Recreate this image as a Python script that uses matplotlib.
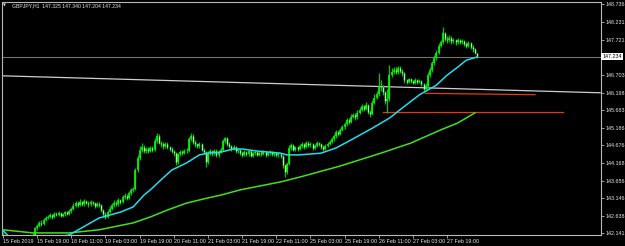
import numpy as np
import matplotlib
matplotlib.use("Agg")
import matplotlib.pyplot as plt
import matplotlib.transforms as mtransforms

# ---------------- data ----------------
symbol_title = "GBPJPY,H1  147.325 147.340 147.204 147.234"
first_open = 142.10
closes = [
    142.05, 141.98, 141.92, 141.88, 141.85, 141.90, 141.87, 141.93, 141.96, 141.92,
    141.98, 142.02, 141.99, 142.04, 142.10, 142.28, 142.35, 142.45, 142.40, 142.52,
    142.58, 142.62, 142.66, 142.60, 142.70, 142.68, 142.72, 142.65, 142.69, 142.74,
    142.70, 142.78, 142.83, 142.93, 143.00, 142.96, 143.03, 142.98, 143.06, 143.02,
    142.97, 143.04, 143.00, 142.94, 142.98, 142.95, 142.80, 142.70, 142.62, 142.75,
    142.85, 142.95, 143.02, 142.98, 143.10, 143.05, 143.18, 143.22, 143.15, 143.30,
    143.38, 143.42, 143.95, 144.30, 144.55, 144.62, 144.50, 144.58, 144.52, 144.60,
    144.55, 144.80, 144.95, 144.75, 144.70, 144.65, 144.72, 144.62, 144.58, 144.50,
    144.45, 144.20, 144.42, 144.48, 144.45, 144.52, 144.50, 144.85, 144.95, 144.78,
    144.70, 144.65, 144.72, 144.55, 144.48, 144.20, 144.45, 144.50, 144.45, 144.52,
    144.40, 144.48, 144.55, 144.80, 144.88, 144.70, 144.65, 144.58, 144.62, 144.50,
    144.55, 144.45, 144.40, 144.48, 144.42, 144.50, 144.38, 144.44, 144.47, 144.41,
    144.46, 144.43, 144.49, 144.40, 144.45, 144.48, 144.42, 144.44, 144.39, 144.43,
    144.36, 144.10, 143.90, 144.15, 144.60, 144.68, 144.55, 144.62, 144.58, 144.65,
    144.70, 144.62, 144.75, 144.68, 144.72, 144.60, 144.66, 144.74, 144.70, 144.64,
    144.58, 144.66, 144.72, 144.78, 144.85, 144.95, 145.05, 145.00, 145.12, 145.20,
    145.28, 145.40, 145.35, 145.50, 145.55, 145.48, 145.62, 145.70, 145.80, 145.72,
    145.85, 145.65, 145.58, 145.90, 146.05, 146.15, 146.40, 146.35, 146.20, 145.95,
    146.00, 146.70, 146.80, 146.85, 146.78, 146.90, 146.82, 146.75, 146.55, 146.50,
    146.58, 146.52, 146.48, 146.56, 146.50, 146.53, 146.45, 146.30, 146.40, 146.70,
    146.85, 147.05, 147.20, 147.35, 147.55, 147.65, 147.90, 147.75, 147.70, 147.78,
    147.68, 147.70, 147.65, 147.72, 147.66, 147.68, 147.60, 147.55, 147.62, 147.52,
    147.45, 147.325, 147.234]
highs = [
    142.18, 142.08, 142.01, 141.96, 141.93, 141.95, 141.94, 141.97, 142.01, 141.99,
    142.03, 142.07, 142.06, 142.09, 142.16, 142.33, 142.40, 142.50, 142.52, 142.57,
    142.63, 142.68, 142.72, 142.70, 142.75, 142.74, 142.77, 142.76, 142.73, 142.79,
    142.78, 142.84, 142.89, 143.00, 143.08, 143.06, 143.12, 143.08, 143.14, 143.10,
    143.06, 143.10, 143.08, 143.04, 143.03, 143.03, 142.99, 142.84, 142.75, 142.80,
    142.92, 143.02, 143.09, 143.06, 143.16, 143.14, 143.24, 143.29, 143.26, 143.36,
    143.44, 143.48, 144.02, 144.40, 144.66, 144.74, 144.68, 144.64, 144.62, 144.67,
    144.65, 144.88, 145.03, 144.99, 144.80, 144.76, 144.78, 144.76, 144.67, 144.62,
    144.55, 144.48, 144.46, 144.54, 144.53, 144.58, 144.60, 144.92, 145.03, 145.00,
    144.82, 144.75, 144.78, 144.75, 144.59, 144.51, 144.50, 144.57, 144.55, 144.58,
    144.56, 144.53, 144.62, 144.86, 144.93, 144.91, 144.76, 144.69, 144.68, 144.65,
    144.60, 144.58, 144.50, 144.53, 144.52, 144.54, 144.53, 144.49, 144.52, 144.51,
    144.51, 144.50, 144.54, 144.52, 144.50, 144.53, 144.51, 144.49, 144.48, 144.47,
    144.46, 144.39, 144.14, 144.20, 144.68, 144.74, 144.72, 144.67, 144.66, 144.71,
    144.76, 144.74, 144.81, 144.79, 144.77, 144.75, 144.71, 144.80, 144.78, 144.74,
    144.68, 144.71, 144.77, 144.84, 144.91, 145.01, 145.11, 145.10, 145.18, 145.27,
    145.35, 145.47, 145.46, 145.57, 145.62, 145.60, 145.69, 145.77, 145.88, 145.84,
    145.92, 145.88, 145.70, 145.98, 146.15, 146.25, 146.76, 146.55, 146.42, 146.24,
    146.30, 146.99, 146.90, 146.94, 146.92, 146.97, 146.95, 146.87, 146.78, 146.60,
    146.63, 146.62, 146.57, 146.61, 146.60, 146.58, 146.57, 146.48, 146.46, 146.78,
    146.93, 147.12, 147.28, 147.42, 147.62, 147.72, 148.09, 147.95, 147.82, 147.86,
    147.82, 147.76, 147.75, 147.77, 147.75, 147.73, 147.71, 147.65, 147.68, 147.66,
    147.57, 147.48, 147.340]
lows = [
    141.98, 141.92, 141.86, 141.82, 141.80, 141.82, 141.83, 141.84, 141.90, 141.88,
    141.90, 141.95, 141.95, 141.96, 142.01, 142.08, 142.24, 142.31, 142.35, 142.37,
    142.48, 142.54, 142.57, 142.55, 142.57, 142.63, 142.64, 142.60, 142.61, 142.65,
    142.66, 142.67, 142.72, 142.80, 142.89, 142.91, 142.92, 142.93, 142.94, 142.97,
    142.91, 142.93, 142.95, 142.88, 142.89, 142.90, 142.74, 142.62, 142.54, 142.58,
    142.71, 142.80, 142.90, 142.92, 142.94, 142.99, 143.01, 143.13, 143.10, 143.12,
    143.25, 143.33, 143.40, 143.90, 144.25, 144.48, 144.44, 144.45, 144.45, 144.47,
    144.48, 144.52, 144.75, 144.70, 144.63, 144.58, 144.60, 144.57, 144.52, 144.44,
    144.38, 144.10, 144.15, 144.37, 144.40, 144.42, 144.45, 144.47, 144.80, 144.72,
    144.64, 144.59, 144.60, 144.50, 144.42, 144.05, 144.15, 144.40, 144.38, 144.40,
    144.33, 144.35, 144.44, 144.52, 144.74, 144.65, 144.59, 144.52, 144.53, 144.44,
    144.45, 144.40, 144.34, 144.36, 144.37, 144.38, 144.33, 144.34, 144.40, 144.36,
    144.37, 144.38, 144.39, 144.35, 144.36, 144.41, 144.37, 144.37, 144.34, 144.35,
    144.30, 144.02, 143.76, 143.85, 144.12, 144.55, 144.50, 144.50, 144.52, 144.54,
    144.61, 144.57, 144.59, 144.63, 144.64, 144.55, 144.56, 144.62, 144.65, 144.58,
    144.50, 144.54, 144.62, 144.68, 144.74, 144.81, 144.90, 144.94, 144.96, 145.08,
    145.15, 145.24, 145.29, 145.31, 145.45, 145.42, 145.44, 145.58, 145.66, 145.66,
    145.68, 145.58, 145.50, 145.55, 145.86, 146.00, 146.10, 146.25, 146.12, 145.88,
    145.61, 145.95, 146.65, 146.74, 146.72, 146.73, 146.76, 146.66, 146.48, 146.44,
    146.46, 146.47, 146.43, 146.44, 146.45, 146.46, 146.38, 146.20, 146.25, 146.37,
    146.65, 146.80, 147.00, 147.15, 147.30, 147.50, 147.60, 147.68, 147.62, 147.65,
    147.60, 147.62, 147.58, 147.60, 147.60, 147.61, 147.54, 147.48, 147.50, 147.45,
    147.38, 147.30, 147.204]

fast_ma_bar = [0, 3, 12, 22, 31, 45, 55, 61, 66, 69, 74, 79, 86, 92, 96, 102, 108,
               112, 119, 130, 133, 139, 149, 156, 163, 168, 173, 181, 187, 195, 203,
               208, 213, 217, 222]
fast_ma_val = [142.22, 142.03, 141.96, 142.00, 142.09, 142.58, 142.75, 142.90, 143.24,
               143.39, 143.68, 143.96, 144.17, 144.40, 144.45, 144.48, 144.57, 144.57,
               144.51, 144.45, 144.40, 144.40, 144.45, 144.60, 144.83, 145.00, 145.17,
               145.46, 145.75, 146.13, 146.41, 146.70, 146.93, 147.13, 147.22]
slow_ma_bar = [0, 14, 31, 45, 61, 69, 77, 86, 94, 102, 111, 120, 130, 139, 158, 177,
               191, 205, 213, 221]
slow_ma_val = [142.24, 142.15, 142.15, 142.24, 142.44, 142.61, 142.81, 143.01, 143.13,
               143.24, 143.39, 143.50, 143.62, 143.76, 144.08, 144.45, 144.74, 145.12,
               145.32, 145.61]

bid_price = 147.234
trend_bar = [-0.5, 280]
trend_val = [146.68, 146.19]
red1_bar = [197.7, 249.2]
red1_val = [146.175, 146.135]
red2_bar = [178, 262.3]
red2_val = [145.628, 145.628]

y_tick_values = [148.736, 148.231, 147.721, 146.703, 146.198, 145.683, 145.186,
                 144.676, 144.168, 143.656, 143.146, 142.638, 142.141]
x_labels = ["15 Feb 2019", "15 Feb 19:00", "18 Feb 11:00", "19 Feb 03:00",
            "19 Feb 19:00", "20 Feb 11:00", "21 Feb 03:00", "21 Feb 19:00",
            "22 Feb 11:00", "25 Feb 03:00", "25 Feb 19:00", "26 Feb 11:00",
            "27 Feb 03:00", "27 Feb 19:00"]
bars_per_label = 16

# ---------------- drawing ----------------
W, H = 625, 246
fig = plt.figure(figsize=(W / 100, H / 100), dpi=100, facecolor="black")
ax = fig.add_axes([2 / W, 11 / H, 599 / W, 233 / H])
ax.set_facecolor("black")

closes_a = np.array(closes)
opens_a = np.r_[first_open, closes_a[:-1]]
highs_a = np.array(highs)
lows_a = np.array(lows)
idx = np.arange(len(closes_a))

txt_col = "#e6e6e6"
font = "Liberation Sans"

# trend line (light gray) and bid line
ax.plot(trend_bar, trend_val, color="#cfcfcf", lw=0.9, zorder=1, solid_capstyle="butt")
ax.axhline(bid_price, color="#767676", lw=0.75, zorder=1)

# candles
ax.vlines(idx, lows_a, highs_a, color="#00c800", lw=0.9, zorder=3)
up = closes_a >= opens_a
ax.vlines(idx[up], opens_a[up], closes_a[up], color="#00ff00", lw=1.2, zorder=4)
ax.vlines(idx[~up], closes_a[~up], opens_a[~up], color="#a8f0a8", lw=1.0, zorder=4)

# moving averages
ax.plot(slow_ma_bar, slow_ma_val, color="#3ee21c", lw=1.1, zorder=5)
ax.plot(fast_ma_bar, fast_ma_val, color="#22dcf0", lw=1.1, zorder=5)

# red levels
ax.plot(red1_bar, red1_val, color="#e23c10", lw=0.9, zorder=2)
ax.plot(red2_bar, red2_val, color="#e23c10", lw=0.9, zorder=2)

ax.set_xlim(-0.47, 280.1)
ax.set_ylim(142.09, 148.808)

# axes frame
for s in ax.spines.values():
    s.set_color("#b8b8b8")
    s.set_linewidth(0.8)

# y axis on right
ax.yaxis.tick_right()
ax.set_yticks(y_tick_values)
ax.set_yticklabels([f"{v:.3f}" for v in y_tick_values], fontsize=3.9,
                   color=txt_col, family=font)
ax.tick_params(axis="y", length=2.2, width=0.6, color="#b8b8b8", pad=1.2,
               direction="out")

# x axis
ax.set_xticks(np.arange(len(x_labels)) * bars_per_label)
ax.set_xticklabels(x_labels, fontsize=3.9, color=txt_col, family=font, ha="left")
ax.tick_params(axis="x", length=2.2, width=0.6, color="#b8b8b8", pad=0.8,
               direction="out")

# bid price box
trans = mtransforms.blended_transform_factory(ax.transAxes, ax.transData)
ax.text(1.0 + 1.5 / 599, bid_price, "147.234", transform=trans, ha="left",
        va="center", fontsize=3.9, family=font, color="black",
        bbox=dict(facecolor="white", edgecolor="none", pad=0.9), clip_on=False)

# title
fig.text(3 / W, 1 - 5.5 / H, "\u25BC", fontsize=2.6, color=txt_col,
         family="DejaVu Sans", va="center", ha="left")
fig.text(12 / W, 1 - 5.5 / H, symbol_title, fontsize=3.7, color=txt_col,
         family=font, va="center", ha="left")

fig.savefig("out.png", dpi=100, facecolor="black")
